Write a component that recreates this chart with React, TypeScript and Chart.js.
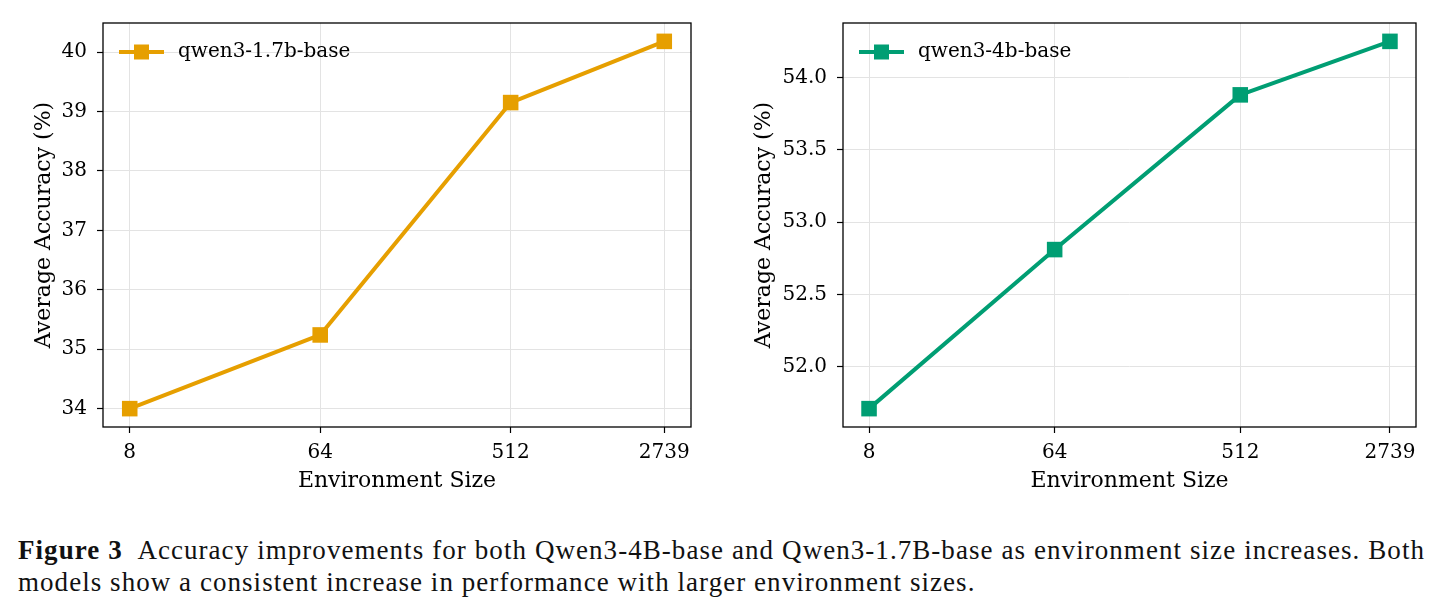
import React, { useEffect, useRef } from "react";
import { Chart, registerables } from "chart.js";

Chart.register(...registerables);

// ---- data ----
const envSizes = [8, 64, 512, 2739];
const envTickLabels = ["8", "64", "512", "2739"];
const acc17b = [34.0, 35.24, 39.15, 40.18];
const acc4b = [51.71, 52.81, 53.88, 54.25];
const yTicks17b = [34, 35, 36, 37, 38, 39, 40];
const yTicks4b = [52.0, 52.5, 53.0, 53.5, 54.0];
const seriesLabel17b = "qwen3-1.7b-base";
const seriesLabel4b = "qwen3-4b-base";
const xTitle = "Environment Size";
const yTitle = "Average Accuracy (%)";
const captionBold = "Figure 3";
const captionLine1 =
  "Accuracy improvements for both Qwen3-4B-base and Qwen3-1.7B-base as environment size increases. Both";
const captionLine2 =
  "models show a consistent increase in performance with larger environment sizes.";

const ORANGE = "#E69F00";
const GREEN = "#009E73";
const FONT = "'DejaVu Serif', serif";
const CAPTION_FONT = "'Liberation Serif', serif";

function padRange(lo: number, hi: number, frac = 0.05): [number, number] {
  const m = (hi - lo) * frac;
  return [lo - m, hi + m];
}

// legend drawn inside the plot area, upper left (matplotlib style: line + marker + label)
const innerLegend = {
  id: "innerLegend",
  afterDraw(chart: any) {
    const { ctx, chartArea: a } = chart;
    const ds = chart.data.datasets[0];
    const color = ds.borderColor;
    const cy = a.top + 29;
    const x0 = a.left + 16;
    ctx.save();
    ctx.strokeStyle = color;
    ctx.lineWidth = 4;
    ctx.beginPath();
    ctx.moveTo(x0, cy);
    ctx.lineTo(x0 + 45, cy);
    ctx.stroke();
    ctx.fillStyle = color;
    ctx.fillRect(x0 + 22.5 - 7.5, cy - 7.5, 15, 15);
    ctx.fillStyle = "#000";
    ctx.font = `20px ${FONT}`;
    ctx.textBaseline = "middle";
    ctx.textAlign = "left";
    ctx.fillText(ds.label, a.left + 75, cy);
    ctx.restore();
  },
};

const frameBox = {
  id: "frameBox",
  afterDatasetsDraw(chart: any) {
    const { ctx, chartArea: a } = chart;
    ctx.save();
    ctx.strokeStyle = "#000";
    ctx.lineWidth = 1.3;
    ctx.strokeRect(a.left, a.top, a.right - a.left, a.bottom - a.top);
    ctx.restore();
  },
};

type PanelProps = {
  values: number[];
  yTicks: number[];
  decimals: number;
  label: string;
  color: string;
  axisWidth: number;
  rightPad: number;
  left: number;
  width: number;
  height: number;
};

function Panel(p: PanelProps) {
  const ref = useRef<HTMLCanvasElement | null>(null);
  useEffect(() => {
    const [lx0, lx1] = padRange(
      Math.log10(envSizes[0]),
      Math.log10(envSizes[envSizes.length - 1])
    );
    const [ymin, ymax] = padRange(Math.min(...p.values), Math.max(...p.values));
    const chart = new Chart(ref.current!, {
      type: "line",
      data: {
        datasets: [
          {
            label: p.label,
            data: envSizes.map((x, i) => ({ x, y: p.values[i] })),
            borderColor: p.color,
            backgroundColor: p.color,
            borderWidth: 4,
            borderJoinStyle: "round",
            pointStyle: "rect",
            pointRadius: 11,
            pointHoverRadius: 11,
            pointBorderWidth: 0,
            pointBackgroundColor: p.color,
            fill: false,
            tension: 0,
          } as any,
        ],
      },
      options: {
        animation: false,
        responsive: false,
        devicePixelRatio: 1,
        events: [],
        layout: { padding: { top: 23, right: p.rightPad, left: 0, bottom: 0 } },
        scales: {
          x: {
            type: "logarithmic",
            min: Math.pow(10, lx0),
            max: Math.pow(10, lx1),
            afterBuildTicks: (s: any) => {
              s.ticks = envSizes.map((v) => ({ value: v }));
            },
            afterFit: (s: any) => {
              s.height = 73;
            },
            ticks: {
              color: "#000",
              padding: 8,
              maxRotation: 0,
              autoSkip: false,
              font: { family: FONT, size: 20 },
              callback: (v: any) => envTickLabels[envSizes.indexOf(Number(v))] ?? "",
            },
            grid: {
              color: "#e3e3e3",
              lineWidth: 1,
              tickColor: "#000",
              tickLength: 6,
              tickWidth: 1.2,
            },
            border: { display: false },
            title: {
              display: true,
              text: xTitle,
              color: "#000",
              font: { family: FONT, size: 22 },
              padding: { top: 0, bottom: 6 },
            },
          } as any,
          y: {
            type: "linear",
            min: ymin,
            max: ymax,
            afterBuildTicks: (s: any) => {
              s.ticks = p.yTicks.map((v) => ({ value: v }));
            },
            afterFit: (s: any) => {
              s.width = p.axisWidth;
            },
            ticks: {
              color: "#000",
              padding: 10,
              font: { family: FONT, size: 20 },
              callback: (v: any) => Number(v).toFixed(p.decimals),
            },
            grid: {
              color: "#e3e3e3",
              lineWidth: 1,
              tickColor: "#000",
              tickLength: 6,
              tickWidth: 1.2,
            },
            border: { display: false },
            title: {
              display: true,
              text: yTitle,
              color: "#000",
              font: { family: FONT, size: 22 },
              padding: { top: 31, bottom: 0 },
            },
          } as any,
        },
        plugins: {
          tooltip: { enabled: false },
          legend: { display: false },
        },
      },
      plugins: [frameBox, innerLegend],
    });
    return () => chart.destroy();
  }, []);
  return (
    <canvas
      ref={ref}
      width={p.width}
      height={p.height}
      style={{ position: "absolute", left: p.left, top: 0, width: p.width, height: p.height }}
    />
  );
}

export default function App() {
  const captionStyle: React.CSSProperties = {
    position: "absolute",
    left: 18,
    fontFamily: CAPTION_FONT,
    fontSize: 27,
    letterSpacing: "1.05px",
    lineHeight: "32px",
    color: "#111",
    whiteSpace: "nowrap",
  };
  return (
    <div
      style={{
        position: "absolute",
        left: 0,
        top: 0,
        width: 1442,
        height: 610,
        background: "#fff",
        overflow: "hidden",
      }}
    >
      <Panel
        values={acc17b}
        yTicks={yTicks17b}
        decimals={0}
        label={seriesLabel17b}
        color={ORANGE}
        axisWidth={103}
        rightPad={29}
        left={0}
        width={720}
        height={500}
      />
      <Panel
        values={acc4b}
        yTicks={yTicks4b}
        decimals={1}
        label={seriesLabel4b}
        color={GREEN}
        axisWidth={123}
        rightPad={26}
        left={720}
        width={722}
        height={500}
      />
      <div
        style={{
          ...captionStyle,
          top: 534,
          width: 1407,
          textAlign: "justify",
          textAlignLast: "justify" as any,
        }}
      >
        <b>{captionBold}</b>
        {"\u2002"}
        {captionLine1}
      </div>
      <div style={{ ...captionStyle, top: 566 }}>{captionLine2}</div>
    </div>
  );
}
